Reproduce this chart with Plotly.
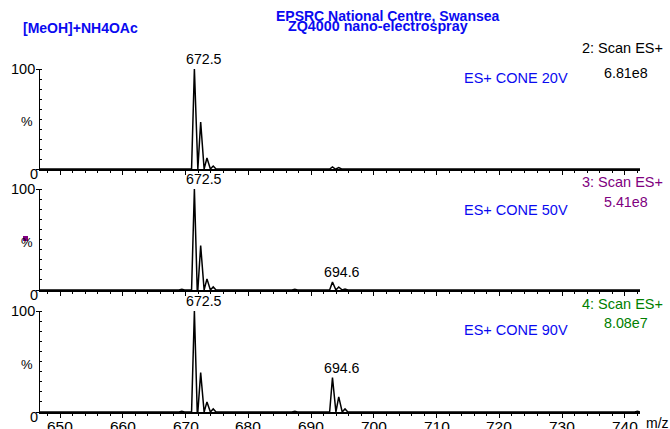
import plotly.graph_objects as go

FW, FH = 670, 429
FONT = "Liberation Sans, Arial, sans-serif"

# ---- data ----
x_ticks = [650, 660, 670, 680, 690, 700, 710, 720, 730, 740]
y_tick_labels = ["100", "0"]

# panel 1 (cone 20V)
p1_mz = [669.4, 671.4, 672.4, 673.4, 674.4, 693.4, 694.4]
p1_int = [0.6, 100, 47, 11, 3, 2, 1.5]
# panel 2 (cone 50V)
p2_mz = [669.4, 671.4, 672.4, 673.4, 674.4, 687.4, 693.4, 694.4, 695.4]
p2_int = [0.8, 100, 44, 11, 3, 0.6, 8, 3, 1]
# panel 3 (cone 90V)
p3_mz = [669.4, 671.4, 672.4, 673.4, 674.4, 687.4, 693.4, 694.4, 695.4, 742.0]
p3_int = [0.8, 100, 39, 10, 3, 0.8, 34, 15, 3, 0.8]

scan_titles = ["2: Scan ES+", "3: Scan ES+", "4: Scan ES+"]
scan_tic = ["6.81e8", "5.41e8", "8.08e7"]
scan_colors = ["#000000", "#800080", "#008000"]
cone_labels = ["ES+ CONE 20V", "ES+ CONE 50V", "ES+ CONE 90V"]
peak_labels = [["672.5"], ["672.5", "694.6"], ["672.5", "694.6"]]
peak_label_mz = [[671.4], [671.4, 693.4], [671.4, 693.4]]
peak_label_int = [[100], [100, 8], [100, 34]]

# ---- layout geometry (reference pixels) ----
X_LEFT, X_RIGHT = 40, 640
X_RANGE = [646.8, 742.4]
panels_px = [(169, 69), (290, 189), (412, 311)]  # (y of 0, y of 100)
title_y = [48, 182, 304]
tic_y = [73, 202, 323]
cone_y = [78, 210, 330]
BLUE = "#0a0af0"

def px(p):
    return p / FW

def py(p):
    return 1 - p / FH

def profile(mzs, ints, half=0.45):
    xs, ys = [X_RANGE[0]], [0]
    for m, h in sorted(zip(mzs, ints)):
        xs += [m - half, m, m + half]
        ys += [0, h, 0]
    xs.append(X_RANGE[1])
    ys.append(0)
    return xs, ys

def note(x, y, text, size=14, color="black", xanchor="center"):
    return dict(x=px(x), y=py(y), xref="paper", yref="paper", text=text,
                showarrow=False, xanchor=xanchor, yanchor="middle",
                font=dict(family=FONT, size=size, color=color))

fig = go.Figure()
data = [(p1_mz, p1_int), (p2_mz, p2_int), (p3_mz, p3_int)]
annotations = []
layout = {}
for i, (mz, it) in enumerate(data):
    n = "" if i == 0 else str(i + 1)
    xs, ys = profile(mz, it)
    fig.add_trace(go.Scatter(x=xs, y=ys, mode="lines",
                             line=dict(color="black", width=1.5),
                             xaxis="x" + n, yaxis="y" + n,
                             showlegend=False, hoverinfo="skip"))
    y0, y100 = panels_px[i]
    layout["xaxis" + n] = dict(
        domain=[px(X_LEFT), px(X_RIGHT)], range=X_RANGE, anchor="y" + n,
        automargin=False,
        showline=True, linecolor="black", linewidth=1.5,
        showgrid=False, zeroline=False,
        tickmode="array", tickvals=x_ticks,
        ticks="outside", ticklen=4, tickcolor="black", tickwidth=1,
        minor=dict(dtick=2, tick0=0, ticks="outside", ticklen=2, tickcolor="black", tickwidth=1),
        showticklabels=False,
    )
    layout["yaxis" + n] = dict(
        domain=[py(y0), py(y100)], range=[0, 100], anchor="x" + n,
        automargin=False,
        showline=True, linecolor="black", linewidth=1,
        showgrid=False, zeroline=False,
        tickmode="array", tickvals=[0, 100], ticks="outside", ticklen=3,
        tickcolor="black",
        minor=dict(dtick=10, tick0=0, ticks="inside", ticklen=2, tickcolor="black"),
        showticklabels=False,
    )
    annotations.append(note(37, y100, y_tick_labels[0], 14.5, xanchor="right"))
    annotations.append(note(40, y0 + 5, y_tick_labels[1], 14.5, xanchor="right"))
    annotations.append(note(27, (y0 + y100) / 2 + 3, "%", 13))
    annotations.append(note(665, title_y[i], scan_titles[i], 14.5, scan_colors[i], "right"))
    annotations.append(note(626, tic_y[i], scan_tic[i], 14.3, scan_colors[i]))
    annotations.append(note(516, cone_y[i], cone_labels[i], 14.5, BLUE))
    for lab, m, h in zip(peak_labels[i], peak_label_mz[i], peak_label_int[i]):
        annotations.append(dict(x=m, y=h, xref="x" + n, yref="y" + n, text=lab,
                                showarrow=False, xanchor="center", yanchor="bottom",
                                xshift=10, yshift=0,
                                font=dict(family=FONT, size=14.2, color="black")))

# x tick labels of the bottom panel (placed on the bottom x scale)
for v in x_ticks:
    annotations.append(dict(x=v, y=py(416), xref="x3", yref="paper", text=str(v),
                            showarrow=False, xanchor="center", yanchor="top",
                            font=dict(family=FONT, size=15.5, color="black")))

# headers
annotations.append(note(80, 28, "<b>[MeOH]+NH4OAc</b>", 14, BLUE))
annotations.append(note(388, 16, "<b>EPSRC National Centre, Swansea</b>", 14, BLUE))
annotations.append(note(378, 26, "<b>ZQ4000 nano-electrospray</b>", 14.3, BLUE))
annotations.append(note(657, 423, "m/z", 14))

shapes = [dict(type="rect", xref="paper", yref="paper",
               x0=px(23), x1=px(28), y0=py(241), y1=py(236),
               fillcolor="#800080", line=dict(width=0))]

fig.update_layout(
    width=FW, height=FH, margin=dict(l=0, r=0, t=0, b=0, autoexpand=False),
    paper_bgcolor="white", plot_bgcolor="white",
    annotations=annotations, shapes=shapes, **layout,
)
fig.write_html(
    "out.html",
    config={"displayModeBar": False},
    post_script="document.body.style.margin='0';document.body.style.overflow='hidden';",
)
